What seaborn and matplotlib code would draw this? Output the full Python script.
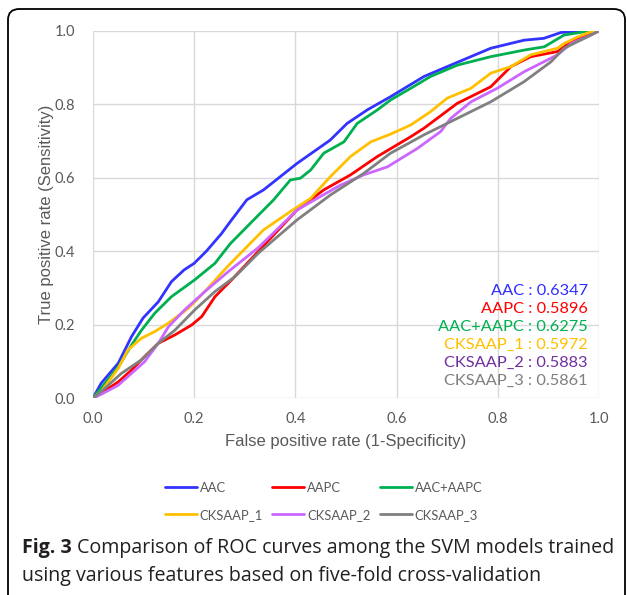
import numpy as np
import pandas as pd
import matplotlib
matplotlib.use("Agg")
import matplotlib.pyplot as plt
from matplotlib.patches import FancyBboxPatch
import seaborn as sns

# ---------------- data ----------------
series_names = ["AAC", "AAPC", "AAC+AAPC", "CKSAAP_1", "CKSAAP_2", "CKSAAP_3"]
auc_values = ["0.6347", "0.5896", "0.6275", "0.5972", "0.5883", "0.5861"]

aac_fpr = [0, 0.016, 0.05, 0.076, 0.099, 0.129, 0.155, 0.18, 0.2, 0.224, 0.254, 0.271, 0.304,
           0.337, 0.403, 0.469, 0.502, 0.542, 0.588, 0.654, 0.707, 0.786, 0.852, 0.891, 0.925, 1.0]
aac_tpr = [0, 0.04, 0.095, 0.167, 0.218, 0.262, 0.317, 0.349, 0.367, 0.40, 0.448, 0.48, 0.54,
           0.567, 0.639, 0.703, 0.748, 0.785, 0.821, 0.876, 0.907, 0.953, 0.975, 0.98, 0.996, 1.0]

aapc_fpr = [0, 0.016, 0.05, 0.076, 0.102, 0.129, 0.162, 0.195, 0.215, 0.241, 0.274, 0.327, 0.403,
            0.456, 0.509, 0.562, 0.628, 0.654, 0.72, 0.786, 0.826, 0.865, 0.918, 0.945, 0.984, 1.0]
aapc_tpr = [0, 0.013, 0.044, 0.076, 0.113, 0.149, 0.172, 0.199, 0.222, 0.276, 0.322, 0.40, 0.512,
            0.567, 0.608, 0.658, 0.712, 0.735, 0.803, 0.848, 0.903, 0.93, 0.944, 0.971, 0.994, 1.0]

combo_fpr = [0, 0.016, 0.05, 0.076, 0.096, 0.122, 0.155, 0.201, 0.241, 0.271, 0.311, 0.357, 0.39,
             0.41, 0.43, 0.456, 0.496, 0.522, 0.562, 0.588, 0.628, 0.667, 0.72, 0.786, 0.852,
             0.892, 0.931, 0.971, 1.0]
combo_tpr = [0, 0.027, 0.085, 0.144, 0.185, 0.231, 0.276, 0.322, 0.367, 0.42, 0.476, 0.54, 0.594,
             0.599, 0.621, 0.667, 0.698, 0.748, 0.785, 0.812, 0.844, 0.876, 0.907, 0.93, 0.948,
             0.957, 0.989, 0.998, 1.0]

ck1_fpr = [0, 0.016, 0.05, 0.069, 0.096, 0.122, 0.149, 0.188, 0.221, 0.267, 0.337, 0.39, 0.43,
           0.469, 0.509, 0.549, 0.588, 0.628, 0.667, 0.70, 0.747, 0.786, 0.826, 0.865, 0.918,
           0.931, 0.958, 0.984, 1.0]
ck1_tpr = [0, 0.017, 0.081, 0.131, 0.163, 0.181, 0.204, 0.244, 0.29, 0.36, 0.458, 0.508, 0.544,
           0.603, 0.658, 0.698, 0.719, 0.744, 0.78, 0.817, 0.844, 0.885, 0.903, 0.935, 0.953,
           0.966, 0.984, 0.998, 1.0]

ck2_fpr = [0, 0.016, 0.05, 0.076, 0.102, 0.129, 0.149, 0.181, 0.221, 0.267, 0.327, 0.403, 0.443,
           0.489, 0.535, 0.582, 0.641, 0.687, 0.707, 0.747, 0.799, 0.852, 0.918, 0.945, 0.984, 1.0]
ck2_tpr = [0, 0.01, 0.035, 0.067, 0.099, 0.149, 0.194, 0.24, 0.29, 0.344, 0.41, 0.512, 0.544,
           0.58, 0.608, 0.63, 0.68, 0.726, 0.762, 0.807, 0.844, 0.889, 0.935, 0.966, 0.989, 1.0]

ck3_fpr = [0, 0.016, 0.056, 0.096, 0.129, 0.162, 0.201, 0.241, 0.281, 0.327, 0.403, 0.469, 0.535,
           0.588, 0.654, 0.72, 0.786, 0.852, 0.905, 0.931, 0.971, 1.0]
ck3_tpr = [0, 0.017, 0.067, 0.104, 0.149, 0.185, 0.24, 0.29, 0.331, 0.395, 0.485, 0.553, 0.612,
           0.667, 0.717, 0.762, 0.807, 0.862, 0.916, 0.953, 0.98, 1.0]

all_fpr = [aac_fpr, aapc_fpr, combo_fpr, ck1_fpr, ck2_fpr, ck3_fpr]
all_tpr = [aac_tpr, aapc_tpr, combo_tpr, ck1_tpr, ck2_tpr, ck3_tpr]

x_ticks = [0.0, 0.2, 0.4, 0.6, 0.8, 1.0]
y_ticks = [0.0, 0.2, 0.4, 0.6, 0.8, 1.0]

# ---------------- styling ----------------
line_colors = ["#3333FF", "#FF0000", "#00B050", "#FFC000", "#CC66FF", "#808080"]
text_colors = ["#2E2EFF", "#FF0000", "#00B050", "#FFC000", "#7030A0", "#7F7F7F"]
grey = "#595959"

frames = []
for name, f, t in zip(series_names, all_fpr, all_tpr):
    frames.append(pd.DataFrame({"fpr": f, "tpr": t, "model": name, "order": range(len(f))}))
df = pd.concat(frames, ignore_index=True)

sns.set_theme(style="white")
plt.rcParams["font.family"] = ["Lato", "DejaVu Sans"]

W, H = 627, 595
fig = plt.figure(figsize=(W / 100, H / 100), dpi=100)

# rounded frame around the figure
frame = FancyBboxPatch((8 / W, -0.05), (625 - 8) / W, (595 - 9) / H + 0.05,
                       boxstyle="round,pad=0,rounding_size=0.018",
                       transform=fig.transFigure, fill=False, edgecolor="black",
                       linewidth=1.3, clip_on=False)
fig.patches.append(frame)

ax = fig.add_axes([93 / W, 1 - 398 / H, 506 / W, 367 / H])
palette = dict(zip(series_names, line_colors))
sns.lineplot(data=df, x="fpr", y="tpr", hue="model", hue_order=series_names,
             palette=palette, sort=False, estimator=None, units="model",
             linewidth=2.0, ax=ax, legend=True)

ax.set_xlim(0, 1)
ax.set_ylim(0, 1)
ax.set_xticks(x_ticks)
ax.set_yticks(y_ticks)
ax.set_xticklabels([f"{v:.1f}" for v in x_ticks])
ax.set_yticklabels([f"{v:.1f}" for v in y_ticks])
ax.grid(True, color="#D9D9D9", linewidth=1.0)
ax.set_axisbelow(True)
for s in ax.spines.values():
    s.set_visible(False)
ax.tick_params(axis="both", length=0, colors=grey, labelsize=10.5)
ax.tick_params(axis="y", pad=13)
ax.tick_params(axis="x", pad=10)
for lab in ax.get_xticklabels() + ax.get_yticklabels():
    lab.set_color(grey)

ax.set_xlabel("False positive rate (1-Specificity)", fontsize=12, color=grey,
              family=["Liberation Sans", "DejaVu Sans"])
ax.set_ylabel("True positive rate (Sensitivity)", fontsize=12, color=grey,
              family=["Liberation Sans", "DejaVu Sans"])
ax.xaxis.set_label_coords(0.5, -(434 - 398) / 367)
ax.yaxis.set_label_coords(-(93 - 54) / 506, 0.5)

# AUC annotations
for i, (name, auc, c) in enumerate(zip(series_names, auc_values, text_colors)):
    ypix = 291 + 18 * i
    ax.text(588 / W, 1 - ypix / H, f"{name} : {auc}", color=c, fontsize=11.8,
            ha="right", va="center", transform=fig.transFigure)

# legend, row-major order
handles, labels = ax.get_legend_handles_labels()
lmap = dict(zip(labels, handles))
order = ["AAC", "CKSAAP_1", "AAPC", "CKSAAP_2", "AAC+AAPC", "CKSAAP_3"]
ax.legend_.remove()
leg = fig.legend([lmap[o] for o in order], order, ncol=3, loc="upper left",
                 bbox_to_anchor=(158 / W, 1 - 475 / H), frameon=False,
                 fontsize=9.4, handlelength=2.45, handletextpad=0.25,
                 columnspacing=0.68, labelspacing=1.15, borderpad=0)
for t in leg.get_texts():
    t.set_color(grey)

# caption
fig.canvas.draw()
r = fig.canvas.get_renderer()
cap_font = ["Open Sans", "DejaVu Sans"]
cap_size = 14.1
t1 = fig.text(22 / W, 1 - 548 / H, "Fig. 3", fontsize=cap_size, fontweight="bold",
              family=cap_font, va="center", ha="left", color="#231F20")
bb = t1.get_window_extent(renderer=r)
fig.text(bb.x1 / W + 5 / W, 1 - 548 / H,
         "Comparison of ROC curves among the SVM models trained",
         fontsize=cap_size, family=cap_font, va="center", ha="left", color="#231F20")
fig.text(22 / W, 1 - 576 / H,
         "using various features based on five-fold cross-validation",
         fontsize=cap_size, family=cap_font, va="center", ha="left", color="#231F20")

fig.savefig("out.png", dpi=100)
